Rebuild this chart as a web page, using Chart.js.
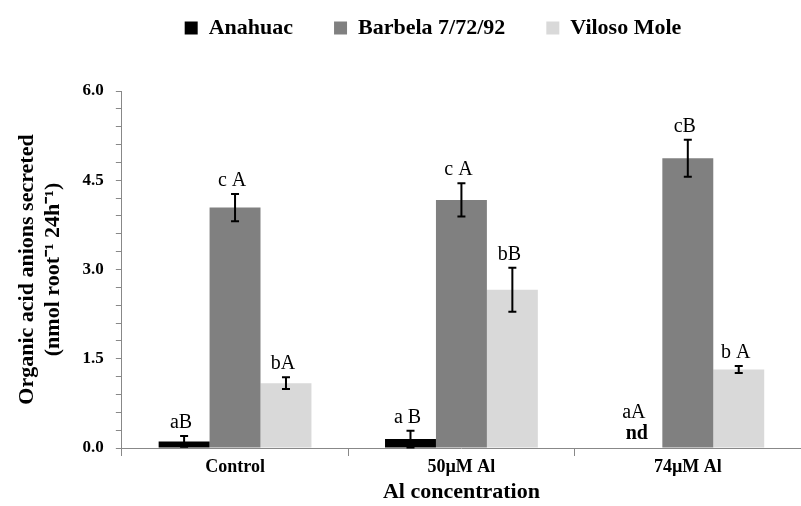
<!DOCTYPE html>
<html>
<head>
<meta charset="utf-8">
<script src="https://cdn.jsdelivr.net/npm/chart.js@4.4.0/dist/chart.umd.min.js"></script>
<style>
  html, body { margin: 0; padding: 0; background: #fff; }
  #wrap { width: 801px; height: 506px; }
</style>
</head>
<body>
<div id="wrap"><canvas id="MyChart"></canvas></div>
<script>
// data
const concentrations = ['Control', '50\u00b5M Al', '74\u00b5M Al'];
const anahuac = [0.11, 0.15, 0];
const anahuacErr = [0.09, 0.14, 0];
const barbela = [4.04, 4.17, 4.87];
const barbelaErr = [0.23, 0.28, 0.31];
const viloso = [1.09, 2.66, 1.32];
const vilosoErr = [0.10, 0.37, 0.06];
const anahuacLetters = ['aB', 'a B', 'aA'];
const barbelaLetters = ['c A', 'c A', 'cB'];
const vilosoLetters = ['bA', 'bB', 'b A'];
const notDetected = [false, false, true];

const serif = '"Liberation Serif", "Times New Roman", serif';

const errorBars = {
  id: 'errorBars',
  afterLayout(chart) {
    // legend sits higher and a bit right in the original
    chart.legend.top -= 42;
    chart.legend.bottom -= 42;
    chart.legend.left += 25;
    chart.legend.right += 25;
  },
  afterDatasetsDraw(chart) {
    let ctx = chart.ctx;
    let y = chart.scales.y;
    let errs = [anahuacErr, barbelaErr, vilosoErr];
    let letters = [anahuacLetters, barbelaLetters, vilosoLetters];
    ctx.save();
    chart.data.datasets.forEach((ds, i) => {
      let meta = chart.getDatasetMeta(i);
      meta.data.forEach((bar, j) => {
        let v = ds.data[j];
        let e = errs[i][j];
        let top = y.getPixelForValue(v + e);
        if (e > 0) {
          let bottom = y.getPixelForValue(v - e);
          ctx.strokeStyle = '#000';
          ctx.lineWidth = 2;
          ctx.beginPath();
          ctx.moveTo(bar.x, top);
          ctx.lineTo(bar.x, bottom);
          ctx.moveTo(bar.x - 4, top);
          ctx.lineTo(bar.x + 4, top);
          ctx.moveTo(bar.x - 4, bottom);
          ctx.lineTo(bar.x + 4, bottom);
          ctx.stroke();
        }
        ctx.fillStyle = '#000';
        ctx.textAlign = 'center';
        ctx.textBaseline = 'bottom';
        let textY = top - 3;
        if (i === 0 && notDetected[j]) {
          ctx.font = 'bold 20px ' + serif;
          ctx.fillText('nd', bar.x, top - 4);
          textY = top - 25;
        }
        ctx.font = '20px ' + serif;
        ctx.fillText(letters[i][j], bar.x - 3, textY);
      });
    });
    ctx.restore();
  }
};

Chart.defaults.font.family = serif;
Chart.defaults.color = '#000';

let data = {
  labels: concentrations,
  datasets: [{
    label: 'Anahuac',
    backgroundColor: '#000000',
    data: anahuac
  }, {
    label: 'Barbela 7/72/92',
    backgroundColor: '#808080',
    data: barbela
  }, {
    label: 'Viloso Mole',
    backgroundColor: '#d9d9d9',
    data: viloso
  }]
};

let options = {
  responsive: true,
  maintainAspectRatio: false,
  animation: false,
  layout: { padding: { left: 15, right: 0, top: 18, bottom: 0 } },
  datasets: { bar: { barPercentage: 1, categoryPercentage: 0.675 } },
  plugins: {
    legend: {
      position: 'top',
      labels: {
        boxWidth: 13,
        boxHeight: 13,
        padding: 41,
        font: { size: 22, weight: 'bold' }
      }
    },
    tooltip: { enabled: false }
  },
  scales: {
    x: {
      grid: { offset: true, drawOnChartArea: false, tickLength: 8, color: '#888' },
      border: { color: '#888' },
      ticks: { font: { size: 18, weight: 'bold' }, padding: 1 },
      title: {
        display: true,
        text: 'Al concentration',
        font: { size: 22, weight: 'bold' },
        padding: { top: 0, bottom: 0 }
      }
    },
    y: {
      min: 0,
      max: 6,
      grid: { drawOnChartArea: false, tickLength: 6, color: '#888' },
      border: { color: '#888' },
      ticks: {
        stepSize: 0.3,
        autoSkip: false,
        font: { size: 17, weight: 'bold' },
        padding: 12,
        callback: function (v) {
          let k = v / 1.5;
          return Math.abs(k - Math.round(k)) < 1e-6 ? v.toFixed(1) : '';
        }
      },
      title: {
        display: true,
        text: ['Organic acid anions secreted', '(nmol root\u207b\u00b9 24h\u207b\u00b9)'],
        font: { size: 22, weight: 'bold', lineHeight: 1.15 },
        padding: { top: 0, bottom: 5 }
      }
    }
  }
};

let myChart = new Chart(document.getElementById('MyChart'), {
  type: 'bar',
  data: data,
  options: options,
  plugins: [errorBars]
});
</script>
</body>
</html>
